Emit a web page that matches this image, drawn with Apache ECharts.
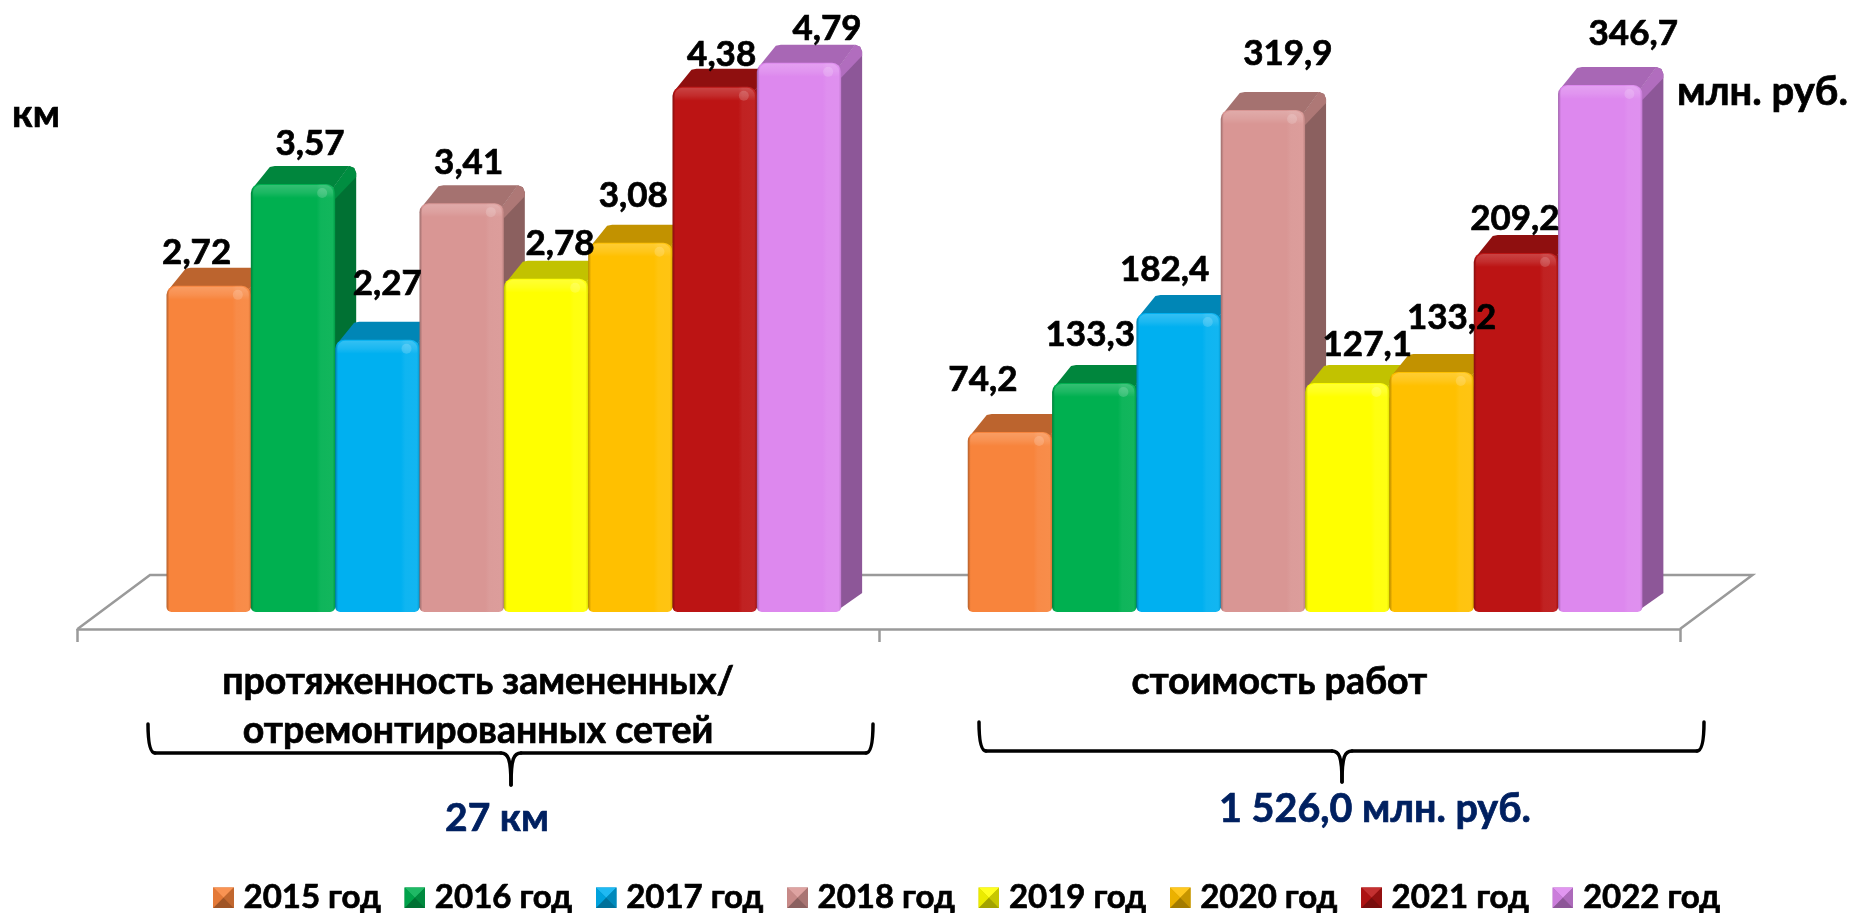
<!DOCTYPE html>
<html>
<head>
<meta charset="utf-8">
<script src="https://cdn.jsdelivr.net/npm/echarts@6/dist/echarts.min.js"></script>
<style>html,body{margin:0;padding:0;background:#fff}#c{width:1852px;height:913px}</style>
</head>
<body>
<div id="c"></div>
<script>
var years = ['2015 год','2016 год','2017 год','2018 год','2019 год','2020 год','2021 год','2022 год'];
var categories = ['протяженность замененных/\nотремонтированных сетей','стоимость работ'];
var kmLabels = ['2,72','3,57','2,27','3,41','2,78','3,08','4,38','4,79'];
var rubLabels = ['74,2','133,3','182,4','319,9','127,1','133,2','209,2','346,7'];
// bar heights as they are drawn in the picture, in axis units
var kmHeights = [2.72,3.57,2.27,3.41,2.78,3.08,4.38,4.58];
var rubHeights = [118.4,150.7,196.7,330.3,150.7,157.9,236.2,346.7];
var colors = ['#F8843C','#00B050','#00B0F0','#D99694','#FFFF00','#FFC000','#BC1414','#DD88EE'];
var kmLabelShift = [[-12,-33],[17,-40],[10,-56],[7,-40],[14,-35],[3,-47],[7,-32],[28,-34]];
var rubLabelShift = [[-27,-52],[-4,-48],[-14,-43],[25,-56],[20,-38],[20,-54],[-1,-34],[33,-51]];

var FONT = 'Lato, "Open Sans", sans-serif';
var DEPTH = 21, RISE = 18, STEP_SHARE = 0.10525, SHIFT = 25.7;

function hex(c){return [parseInt(c.slice(1,3),16),parseInt(c.slice(3,5),16),parseInt(c.slice(5,7),16)];}
function mix(c,t,a){var p=hex(c),q=t==='w'?[255,255,255]:[0,0,0];
  return 'rgb('+p.map(function(v,i){return Math.round(v+(q[i]-v)*a);}).join(',')+')';}

function swatch(c){
  var svg='<svg xmlns="http://www.w3.org/2000/svg" width="21" height="21">'+
    '<rect width="21" height="21" fill="'+mix(c,'k',.2)+'"/>'+
    '<polygon points="0,0 21,0 10.5,10.5" fill="'+mix(c,'w',.12)+'"/>'+
    '<polygon points="0,0 0,21 10.5,10.5" fill="'+mix(c,'k',.08)+'"/>'+
    '<polygon points="21,0 21,21 10.5,10.5" fill="'+mix(c,'k',.22)+'"/>'+
    '<polygon points="0,21 21,21 10.5,10.5" fill="'+mix(c,'k',.36)+'"/></svg>';
  return 'image://data:image/svg+xml;charset=utf-8,'+encodeURIComponent(svg);
}

function barRenderer(idx,labels,shifts){
  return function(params,api){
    var p=api.coord([api.value(0),api.value(1)]);
    var base=api.coord([api.value(0),0])[1];
    var band=api.size([1,0])[0], w=band*STEP_SHARE;
    var x=p[0]+SHIFT+(idx-4)*w, t=p[1], d=DEPTH, r=RISE, c=colors[idx];
    var dk=function(a){return mix(c,'k',a);};
    var kids=[
      {type:'polygon',shape:{points:[[x+w-2,t+4],[x+w+d-7,t-r],[x+w+d-2,t-r+2],[x+w+d,t-r+7],[x+w+d,base-r-1],[x+w-6,base]]},style:{fill:dk(.36)}},
      {type:'polygon',shape:{points:[[x+2,t+4],[x+d-2,t-r+1],[x+d+3,t-r],[x+w+d-7,t-r],[x+w-2,t+4]]},style:{fill:dk(.24)}},
      {type:'polygon',shape:{points:[[x+w-2,t+4],[x+w+d-7,t-r],[x+w+d-2,t-r+2],[x+w+d,t-r+7],[x+w+d,t-r+11],[x+w,t+15]]},style:{fill:dk(.2)}},
      {type:'rect',shape:{x:x,y:t,width:w,height:base-t,r:[9,9,5,5]},style:{fill:{type:'linear',x:0,y:0,x2:1,y2:0,colorStops:[
        {offset:0,color:dk(.28)},{offset:.035,color:c},{offset:.78,color:c},{offset:.83,color:mix(c,'w',.06)},{offset:.97,color:mix(c,'w',.07)},{offset:1,color:dk(.12)}]}}},
      {type:'rect',shape:{x:x+2,y:t+1,width:w-4,height:13,r:[8,8,0,0]},style:{fill:{type:'linear',x:0,y:0,x2:0,y2:1,colorStops:[
        {offset:0,color:'rgba(255,255,255,0.2)'},{offset:.6,color:'rgba(255,255,255,0.1)'},{offset:1,color:'rgba(255,255,255,0)'}]}}},
      {type:'circle',shape:{cx:x+w-13,cy:t+9,r:5},style:{fill:'rgba(255,255,255,0.16)'}},
      {type:'text',z2:100,style:{text:labels[idx],x:x+w/2+shifts[idx][0],y:t+shifts[idx][1],align:'center',verticalAlign:'middle',
        fontFamily:FONT,fontWeight:'bold',fontSize:35,fill:'#000',stroke:'#000',lineWidth:.7}}
    ];
    return {type:'group',children:kids};
  };
}

var series=[{
  type:'custom',name:'floor',silent:true,data:[[0,0]],xAxisIndex:0,yAxisIndex:0,
  renderItem:function(params,api){
    var g=params.coordSys, b=g.y+g.height+17, dx=72.5, dy=54;
    return {type:'polyline',shape:{points:[[g.x,b],[g.x+dx,b-dy],[g.x+g.width+dx,b-dy],[g.x+g.width,b]]},
      style:{stroke:'#9a9a9a',lineWidth:2.5,fill:null}};
  }
}];
years.forEach(function(y,i){
  series.push({type:'custom',name:y,xAxisIndex:0,yAxisIndex:0,data:[[0,kmHeights[i]]],
    encode:{x:0,y:1},renderItem:barRenderer(i,kmLabels,kmLabelShift)});
});
years.forEach(function(y,i){
  series.push({type:'custom',name:y,xAxisIndex:0,yAxisIndex:1,data:[[1,rubHeights[i]]],
    encode:{x:0,y:1},renderItem:barRenderer(i,rubLabels,rubLabelShift)});
});

var stroke={stroke:'#000',lineWidth:3.5,fill:null,lineCap:'round'};
function brace(x0,x1,xm,yTop,yBar,yTip){
  var c=function(a,b,p,q){return {type:'bezierCurve',shape:{x1:a[0],y1:a[1],x2:b[0],y2:b[1],cpx1:p[0],cpy1:p[1],cpx2:q[0],cpy2:q[1]},style:stroke};};
  var l=function(a,b){return {type:'line',shape:{x1:a[0],y1:a[1],x2:b[0],y2:b[1]},style:stroke};};
  return [
    c([x0,yTop],[x0+7,yBar],[x0,yTop+14],[x0+1,yBar]),
    l([x0+7,yBar],[xm-10,yBar]),
    c([xm-10,yBar],[xm,yTip],[xm-3,yBar],[xm,yBar+5]),
    c([xm,yTip],[xm+10,yBar],[xm,yBar+5],[xm+3,yBar]),
    l([xm+10,yBar],[x1-7,yBar]),
    c([x1-7,yBar],[x1,yTop],[x1-1,yBar],[x1,yTop+14])
  ];
}
function note(text,x,y,size,color,align){
  return {type:'text',style:{text:text,x:x,y:y,align:align,verticalAlign:'middle',fontFamily:FONT,fontWeight:'bold',fontSize:size,fill:color,stroke:color,lineWidth:.7}};
}
var chart=echarts.init(document.getElementById('c'),null,{renderer:'canvas'});
chart.setOption({
  animation:false,
  backgroundColor:'#fff',
  grid:{left:77.5,right:172,top:12.5,bottom:301,containLabel:false},
  xAxis:{type:'category',data:categories,offset:17,
    axisLine:{onZero:false,lineStyle:{color:'#9a9a9a',width:2.5}},
    axisTick:{show:true,length:13,lineStyle:{color:'#9a9a9a',width:2.5}},
    axisLabel:{interval:0,margin:28,fontFamily:FONT,fontWeight:'bold',fontSize:37.5,lineHeight:49,color:'#000',verticalAlign:'top',textBorderColor:'#000',textBorderWidth:.7}},
  yAxis:[
    {type:'value',min:0,max:5,show:false},
    {type:'value',min:0,max:394.4,show:false}
  ],
  legend:{
    left:213,top:881,padding:0,itemWidth:21,itemHeight:21,itemGap:23.2,selectedMode:false,
    textStyle:{fontFamily:FONT,fontWeight:'bold',fontSize:33,color:'#000',padding:[0,0,0,4.5],textBorderColor:'#000',textBorderWidth:.7},
    data:years.map(function(y,i){return {name:y,icon:swatch(colors[i])};})
  },
  graphic:[
    note('км',12,115,38,'#000','left'),
    note('млн. руб.',1677,92,40,'#000','left'),
    note('27 км',497,818,39,'#002060','center'),
    note('1 526,0 млн. руб.',1375,809,39.5,'#002060','center')
  ].concat(brace(148,873,511,724,753,785)).concat(brace(979,1704,1342,722,751,782)),
  series:series
});
</script>
</body>
</html>
